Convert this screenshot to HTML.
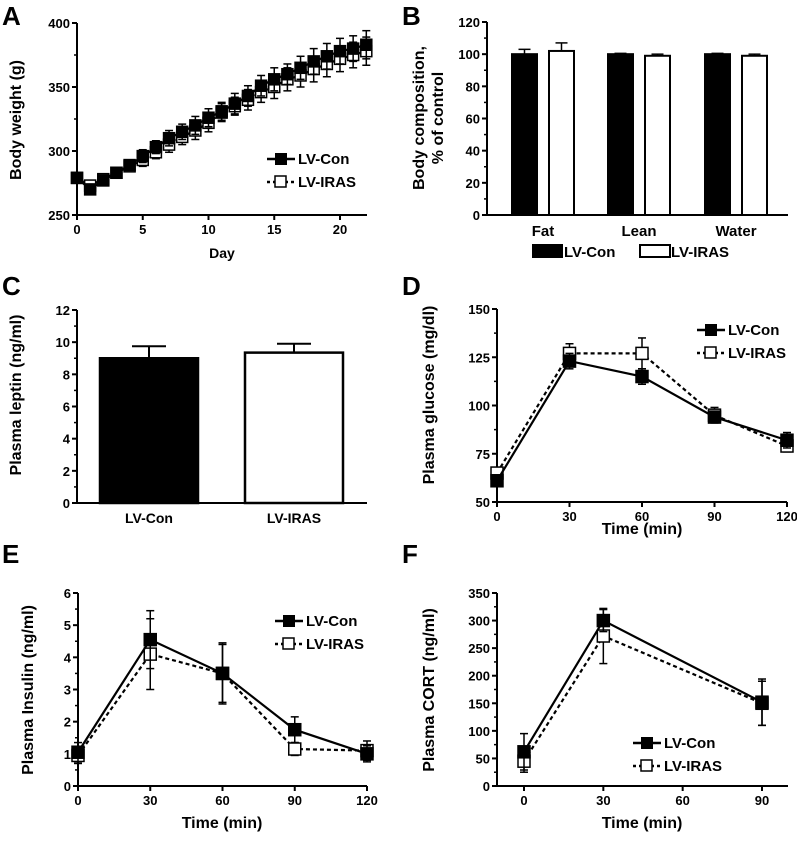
<!DOCTYPE html>
<html><head><meta charset="utf-8"><style>
body{margin:0;background:#fff}
svg text{font-family:"Liberation Sans",Arial,sans-serif;font-weight:bold;fill:#000}
</style></head><body>
<svg id="fig" width="797" height="836" viewBox="0 0 797 836" xmlns="http://www.w3.org/2000/svg"></svg>
<script>
// Panel A data
const aDays=[0,1,2,3,4,5,6,7,8,9,10,11,12,13,14,15,16,17,18,19,20,21,22];
const aCon=[279,270,277,283,289,296,303,310,315,320,326,331,337,343,351,356,360,365,370,374,378,380,383];
const aIras=[279,273,278,283,288,293,299,305,311,316,322,330,335,340,346,350,356,359,364,368,372,375,378];
const aConErr=[3,3,3,3,3,5,5,6,6,7,7,7,8,8,8,9,8,9,10,10,10,10,11];
const aIrasErr=[3,3,3,3,3,5,5,6,6,7,7,7,7,8,8,9,9,9,10,10,10,10,11];
const aXTicks=[0,5,10,15,20];const aYTicks=[250,300,350,400];
// Panel B data
const bCats=["Fat","Lean","Water"];
const bCon=[100,100,100];const bConErr=[3,0.5,0.5];
const bIras=[102,99,99];const bIrasErr=[5,1,1];
const bYTicks=[0,20,40,60,80,100,120];
// Panel C data
const cCats=["LV-Con","LV-IRAS"];const cVals=[9.0,9.35];const cErr=[0.75,0.55];
const cYTicks=[0,2,4,6,8,10,12];
// Panel D data
const dTimes=[0,30,60,90,120];
const dCon=[61,123,115,94,82];const dConErr=[3,4,4,3,4];
const dIras=[65,127,127,95,79];const dIrasErr=[3,5,8,4,3];
const dYTicks=[50,75,100,125,150];
// Panel E data
const eTimes=[0,30,60,90,120];
const eCon=[1.05,4.55,3.5,1.75,1.0];const eConErr=[0.3,0.9,0.95,0.4,0.25];
const eIras=[0.95,4.1,3.5,1.15,1.1];const eIrasErr=[0.25,1.1,0.9,0.2,0.3];
const eYTicks=[0,1,2,3,4,5,6];
// Panel F data
const fTimes=[0,30,90];
const fCon=[62,300,152];const fConErr=[33,20,42];
const fIras=[45,272,150];const fIrasErr=[20,50,40];
const fYTicks=[0,50,100,150,200,250,300,350];const fXTicks=[0,30,60,90];

const svg=document.getElementById('fig');const NS='http://www.w3.org/2000/svg';
function mk(tag,attrs,parent,name){const e=document.createElementNS(NS,tag);for(const k in attrs)e.setAttribute(k,attrs[k]);


(parent||svg).appendChild(e);return e;}
function txt(x,y,s,size,anchor,name,rot,weight){const t=mk('text',{x:x,y:y,'font-size':size,'text-anchor':anchor||'middle'},svg,name);if(rot)t.setAttribute('transform','rotate(-90 '+x+' '+y+')');if(weight)t.setAttribute('font-weight',weight);t.textContent=s;return t;}
function lin(s,d){return v=>s[0]+(v-d[0])*(s[1]-s[0])/(d[1]-d[0]);}
function axes(P,name){const g=mk('g',{},svg,name+'-axes');
mk('line',{x1:P.x0,y1:P.yTop,x2:P.x0,y2:P.yBot+1,stroke:'#000','stroke-width':2},g,name+'-y-axis');
mk('line',{x1:P.x0,y1:P.yBot,x2:P.xEnd,y2:P.yBot,stroke:'#000','stroke-width':2},g,name+'-x-axis');
P.yTicks.forEach(v=>{const y=P.sy(v);mk('line',{x1:P.x0-5,y1:y,x2:P.x0,y2:y,stroke:'#000','stroke-width':2},g,name+'-y-tick');txt(P.x0-7,y+5,String(v),13,'end',name+'-y-tick-label');});
if(P.minor){for(let i=0;i<P.yTicks.length-1;i++){const y=(P.sy(P.yTicks[i])+P.sy(P.yTicks[i+1]))/2;mk('line',{x1:P.x0-3,y1:y,x2:P.x0,y2:y,stroke:'#000','stroke-width':1.5},g,name+'-y-minor-tick');}}
if(P.xTicks)P.xTicks.forEach(v=>{const x=P.sx(v);mk('line',{x1:x,y1:P.yBot,x2:x,y2:P.yBot+5,stroke:'#000','stroke-width':2},g,name+'-x-tick');txt(x,P.yBot+19,String(v),13,'middle',name+'-x-tick-label');});}
function series(P,xs,ys,es,open,sz,name){const g=mk('g',{},svg,name);
const pts=xs.map((x,i)=>P.sx(x)+','+P.sy(ys[i])).join(' ');
const pl=mk('polyline',{points:pts,fill:'none',stroke:'#000','stroke-width':2.2},g,name+'-line');if(open)pl.setAttribute('stroke-dasharray','4,3');
xs.forEach((x,i)=>{const cx=P.sx(x),t=P.sy(ys[i]+es[i]),b=P.sy(ys[i]-es[i]);
mk('line',{x1:cx,y1:t,x2:cx,y2:b,stroke:'#000','stroke-width':1.5},g,name+'-error-bar');
mk('line',{x1:cx-4,y1:t,x2:cx+4,y2:t,stroke:'#000','stroke-width':1.5},g,name+'-error-cap');
mk('line',{x1:cx-4,y1:b,x2:cx+4,y2:b,stroke:'#000','stroke-width':1.5},g,name+'-error-cap');});
xs.forEach((x,i)=>{const cx=P.sx(x),cy=P.sy(ys[i]);
mk('rect',{x:cx-sz/2,y:cy-sz/2,width:sz,height:sz,fill:open?'#fff':'#000',stroke:'#000','stroke-width':1.5},g,name+'-marker');});}
function legend(x,y,name){const g=mk('g',{},svg,name+'-legend');
mk('line',{x1:x,y1:y-5,x2:x+28,y2:y-5,stroke:'#000','stroke-width':2.5},g,'legend-con-line');
mk('rect',{x:x+8,y:y-11,width:12,height:12,fill:'#000'},g,'legend-con-marker');
txt(x+31,y,'LV-Con',15,'start','legend-con-label','',"normal");
mk('line',{x1:x,y1:y+18,x2:x+28,y2:y+18,stroke:'#000','stroke-width':2.5,'stroke-dasharray':'3,3'},g,'legend-iras-line');
mk('rect',{x:x+8,y:y+12,width:11,height:11,fill:'#fff',stroke:'#000','stroke-width':1.5},g,'legend-iras-marker');
txt(x+31,y+23,'LV-IRAS',15,'start','legend-iras-label','',"normal");}

// Panel letters
[['A',2,25],['B',402,25],['C',2,295],['D',402,295],['E',2,563],['F',402,563]].forEach(p=>txt(p[1],p[2],p[0],26,'start','panel-label-'+p[0].toLowerCase()));

// A
const A={x0:77,xEnd:367,yTop:23,yBot:215,yTicks:aYTicks,xTicks:aXTicks,minor:true};
A.sx=lin([77,340],[0,20]);A.sy=lin([215,23],[250,400]);
axes(A,'panel-a');series(A,aDays,aIras,aIrasErr,true,11,'panel-a-lv-iras');series(A,aDays,aCon,aConErr,false,11,'panel-a-lv-con');
legend(267,164,'panel-a');
txt(21,120,'Body weight (g)',16,'middle','panel-a-y-title',true);txt(222,258,'Day',14,'middle','panel-a-x-title','',"normal");

// B
const B={x0:487,xEnd:788,yTop:22,yBot:215,yTicks:bYTicks,minor:true};B.sy=lin([215,22],[0,120]);
axes(B,'panel-b');const bConX=[512,608,705],bW=25,bGap=37;
bCats.forEach((c,i)=>{[[bCon,bConErr,false],[bIras,bIrasErr,true]].forEach((s,j)=>{const x=bConX[i]+j*bGap,y=B.sy(s[0][i]),t=B.sy(s[0][i]+s[1][i]);
mk('line',{x1:x+bW/2,y1:t,x2:x+bW/2,y2:y,stroke:'#000','stroke-width':1.5},svg,'panel-b-error-bar');mk('line',{x1:x+bW/2-6,y1:t,x2:x+bW/2+6,y2:t,stroke:'#000','stroke-width':1.5},svg,'panel-b-error-cap');
mk('rect',{x:x,y:y,width:bW,height:215-y,fill:s[2]?'#fff':'#000',stroke:'#000','stroke-width':2},svg,'panel-b-bar-'+c.toLowerCase()+(s[2]?'-iras':'-con'));});
txt(bConX[i]+31,236,c,15,'middle','panel-b-category-label','',"normal");});
mk('rect',{x:532,y:244,width:31,height:14,fill:'#000'},svg,'panel-b-legend-con-swatch');txt(564,257,'LV-Con',15,'start','panel-b-legend-con-label','',"normal");
mk('rect',{x:640,y:245,width:30,height:12,fill:'#fff',stroke:'#000','stroke-width':2},svg,'panel-b-legend-iras-swatch');txt(671,257,'LV-IRAS',15,'start','panel-b-legend-iras-label','',"normal");
txt(424,118,'Body composition,',16,'middle','panel-b-y-title',true);txt(443,118,'% of control',16,'middle','panel-b-y-title-line2',true);

// C
const C={x0:77,xEnd:367,yTop:310,yBot:503,yTicks:cYTicks,minor:true};C.sy=lin([503,310],[0,12]);
axes(C,'panel-c');const cX=[100,245],cW=98;
cCats.forEach((c,i)=>{const x=cX[i],y=C.sy(cVals[i]),t=C.sy(cVals[i]+cErr[i]);
mk('line',{x1:x+cW/2,y1:t,x2:x+cW/2,y2:y,stroke:'#000','stroke-width':2},svg,'panel-c-error-bar');mk('line',{x1:x+cW/2-17,y1:t,x2:x+cW/2+17,y2:t,stroke:'#000','stroke-width':2},svg,'panel-c-error-cap');
mk('rect',{x:x,y:y,width:cW,height:503-y,fill:i?'#fff':'#000',stroke:'#000','stroke-width':2.5},svg,'panel-c-bar-'+(i?'iras':'con'));
txt(x+cW/2,523,c,14,'middle','panel-c-category-label','',"normal");});
txt(21,395,'Plasma leptin (ng/ml)',16,'middle','panel-c-y-title',true);

// D
const D={x0:497,xEnd:787,yTop:309,yBot:502,yTicks:dYTicks,xTicks:dTimes,minor:true};D.sx=lin([497,787],[0,120]);D.sy=lin([502,309],[50,150]);
axes(D,'panel-d');series(D,dTimes,dIras,dIrasErr,true,12,'panel-d-lv-iras');series(D,dTimes,dCon,dConErr,false,12,'panel-d-lv-con');
legend(697,335,'panel-d');txt(434,395,'Plasma glucose (mg/dl)',16,'middle','panel-d-y-title',true);txt(642,534,'Time (min)',16,'middle','panel-d-x-title');

// E
const E={x0:78,xEnd:367,yTop:593,yBot:786,yTicks:eYTicks,xTicks:eTimes,minor:true};E.sx=lin([78,367],[0,120]);E.sy=lin([786,593],[0,6]);
axes(E,'panel-e');series(E,eTimes,eIras,eIrasErr,true,12,'panel-e-lv-iras');series(E,eTimes,eCon,eConErr,false,12,'panel-e-lv-con');
legend(275,626,'panel-e');txt(33,690,'Plasma Insulin (ng/ml)',16,'middle','panel-e-y-title',true);txt(222,828,'Time (min)',16,'middle','panel-e-x-title');

// F
const F={x0:497,xEnd:788,yTop:593,yBot:786,yTicks:fYTicks,xTicks:fXTicks,minor:true};F.sx=lin([524,762],[0,90]);F.sy=lin([786,593],[0,350]);
axes(F,'panel-f');series(F,fTimes,fIras,fIrasErr,true,12,'panel-f-lv-iras');series(F,fTimes,fCon,fConErr,false,12,'panel-f-lv-con');
legend(633,748,'panel-f');txt(434,690,'Plasma CORT (ng/ml)',16,'middle','panel-f-y-title',true);txt(642,828,'Time (min)',16,'middle','panel-f-x-title');
</script>
</body></html>
